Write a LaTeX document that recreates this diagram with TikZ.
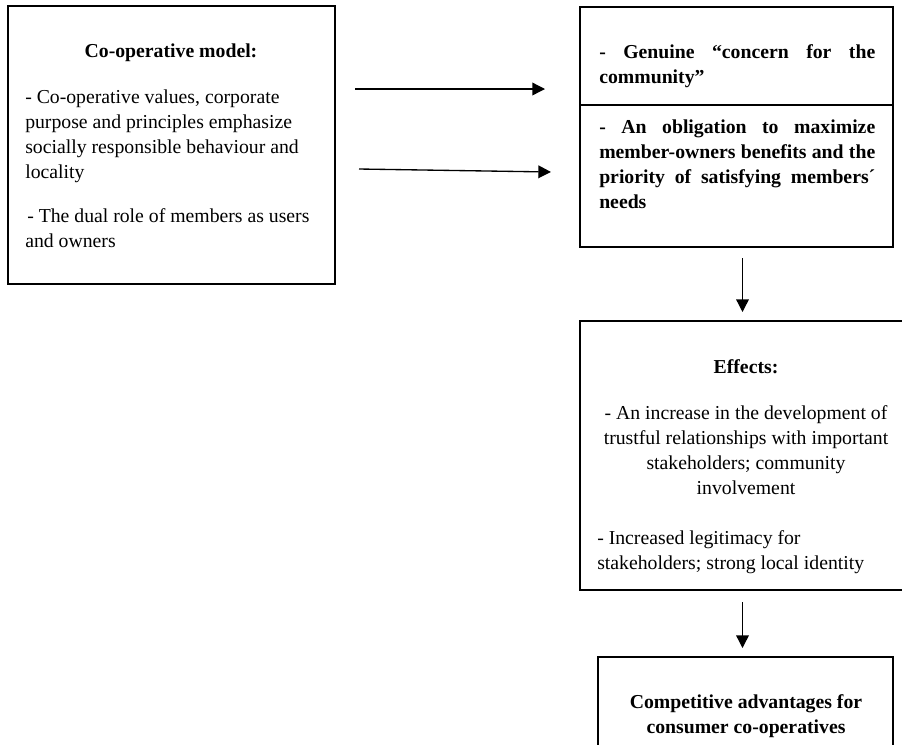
\documentclass[tikz,border=0pt]{standalone}
\usepackage{fontspec}
\setmainfont{Liberation Serif}
\usetikzlibrary{arrows.meta,fit}

\newcommand{\bodysize}{\fontsize{14.8}{18.75}\selectfont}

\tikzset{
  box/.style={draw, line width=0.9pt, inner sep=0pt},
  txt/.style={inner sep=0pt, font=\bodysize},
  boldtxt/.style={inner sep=0pt, font=\bodysize\bfseries},
  flow/.style={line width=1pt, -{Triangle[length=9.5pt,width=9.5pt]}}
}

\begin{document}
\begin{tikzpicture}[x=0.75pt,y=-0.75pt]
  \useasboundingbox (0,0) rectangle (902,744);
  \clip (0,0) rectangle (902,744);

  % frames
  \node[box, fit={(8,6)(335,284)}] (model) {};
  \node[box, fit={(580,7)(893,105)}] (concern) {};
  \node[box, fit={(580,105)(893,247)}] (oblig) {};
  \node[box, fit={(580,321)(915,590)}] (effects) {};
  \node[box, fit={(598,657)(893,770)}] (adv) {};

  % co-operative model
  \node[boldtxt, anchor=base] (modeltitle) at (171,57) {Co-operative model:};
  \node[txt, anchor=base west, text width=225pt, align=flush left] (modelbody) at (25,103)
    {- Co-operative values, corporate\\
     purpose and principles emphasize\\
     socially responsible behaviour and\\
     locality\\[14.25pt]
     \hspace*{1.5pt}- The dual role of members as users\\
     and owners};

  % commitments
  \node[boldtxt, anchor=base west, text width=207pt, align=justify] (concerntext) at (599,58)
    {- Genuine “concern for the\linebreak community”};
  \node[boldtxt, anchor=base west, text width=207pt, align=justify] (obligtext) at (599,133)
    {- An obligation to maximize\linebreak member-owners benefits and the\linebreak priority of satisfying members´\linebreak needs};

  % effects
  \node[boldtxt, anchor=base] (efftitle) at (746,373) {Effects:};
  \node[txt, anchor=base, text width=240pt, align=flush center] (eff1) at (746,419)
    {- An increase in the development of\\
     trustful relationships with important\\
     stakeholders; community\\
     involvement};
  \node[txt, anchor=base west, text width=225pt, align=flush left] (eff2) at (597,544)
    {- Increased legitimacy for\\
     stakeholders; strong local identity};

  % outcome
  \node[boldtxt, anchor=base, text width=225pt, align=flush center] (advtext) at (746,708)
    {Competitive advantages for\\ consumer co-operatives};

  % connectors
  \coordinate (a1s) at (355,89);  \coordinate (a1e) at (545,89);
  \coordinate (a2s) at (359,169); \coordinate (a2e) at (551,172);
  \coordinate (d1s) at (742.5,258); \coordinate (d1e) at (742.5,312);
  \coordinate (d2s) at (742.5,602); \coordinate (d2e) at (742.5,648);
  \draw[flow] (a1s) -- (a1e);
  \draw[flow] (a2s) -- (a2e);
  \draw[flow] (d1s) -- (d1e);
  \draw[flow] (d2s) -- (d2e);
\end{tikzpicture}
\end{document}
